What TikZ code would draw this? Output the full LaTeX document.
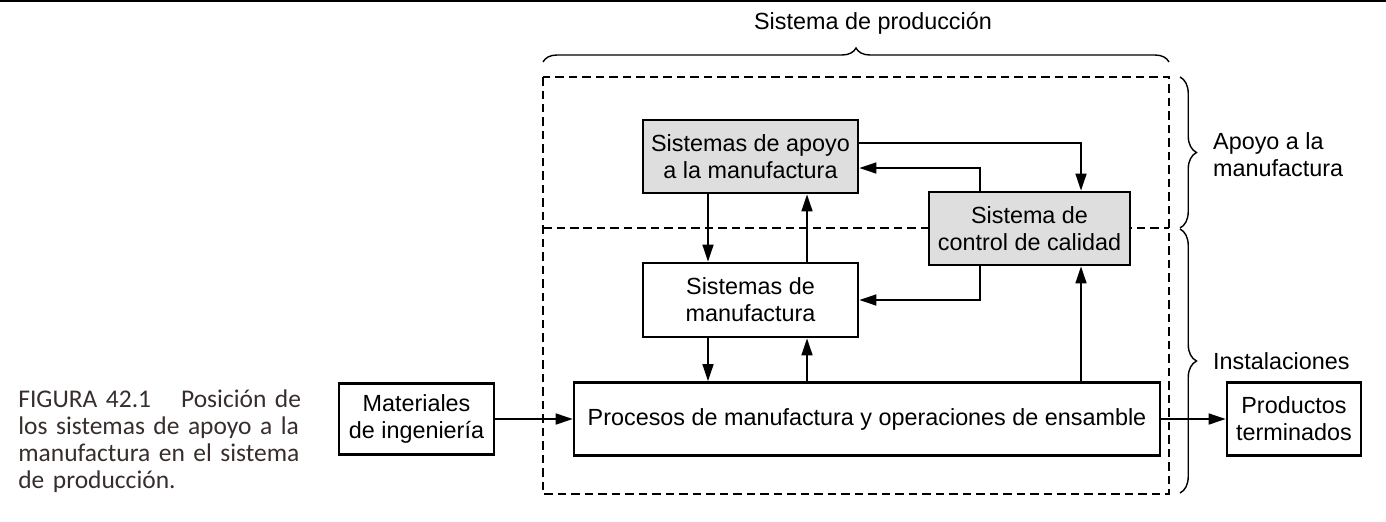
\documentclass[tikz,border=0pt]{standalone}
\usepackage{fontspec}
\setmainfont{Liberation Sans}
\newfontfamily\captionfont{Carlito}
\usetikzlibrary{arrows.meta,calc,decorations.pathreplacing}
\definecolor{boxgray}{RGB}{222,222,222}
\definecolor{captiongray}{RGB}{55,45,45}
\begin{document}
\begin{tikzpicture}[x=0.02cm,y=-0.02cm,
        every node/.style={font=\fontsize{13.3}{15.4}\selectfont, align=center},
        blk/.style={draw, line width=1.6pt, inner sep=0pt, minimum height=1.46cm},
        shaded/.style={blk, fill=boxgray},
        arr/.style={-{Triangle[length=0.34cm,width=0.22cm]}, line width=0.95pt},
        region/.style={dash pattern=on 0.17cm off 0.1cm, line width=0.7pt},
        bracket/.style={decorate, decoration={brace, amplitude=#1}, line width=0.8pt},
        captxt/.style={anchor=north west, align=left, inner sep=0pt, text width=6.2cm,
            text=captiongray, font=\captionfont\fontsize{14.5}{15.4}\selectfont}]
        \useasboundingbox (0,0) rectangle (1386,521);
        \draw[line width=1.2pt] (0,1) -- (1386,1);
        % production system frame
        \draw[region] (543,77) rectangle (1169,494);
        \draw[region] (543,228) -- (1169,228);
        \draw[bracket=0.28cm] (543,62) -- (1169,62);
        \draw[bracket=0.33cm] (1180,77) -- (1180,228);
        \draw[bracket=0.33cm] (1180,229) -- (1180,493);
        \node (Prod) at (873,23) {Sistema de producción};
        \node[anchor=west, align=left] (ApoyoL) at (1207,155) {Apoyo a la\\manufactura};
        \node[anchor=west] (InstL) at (1207,361) {Instalaciones};
        % blocks
        \node[shaded, minimum width=4.3cm] (Apoyo) at (750.5,156.5) {Sistemas de apoyo\\a la manufactura};
        \node[shaded, minimum width=4.02cm] (Calidad) at (1029.5,228.5) {Sistema de\\control de calidad};
        \node[blk, minimum width=4.3cm, minimum height=1.48cm] (Manuf) at (750.5,300) {Sistemas de\\manufactura};
        \node[blk, minimum width=11.72cm] (Procesos) at (867,419) {Procesos de manufactura y operaciones de ensamble};
        \node[blk, minimum width=3.1cm, minimum height=1.42cm] (Mat) at (416.5,419) {Materiales\\de ingeniería};
        \node[blk, minimum width=2.68cm] (Prodt) at (1294,419) {Productos\\terminados};
        \node[captxt] (Cap) at (18,389)
            {FIGURA 42.1\hspace{0.6cm}Posición de\\los sistemas de apoyo a la\\manufactura en el sistema\\de producción.};
        % connectors
        \draw[arr] ($(Apoyo.east)+(0,-13.5)$) -| ($(Calidad.north)+(51.5,0)$);
        \draw[arr] ($(Calidad.north)+(-49.5,0)$) |- ($(Apoyo.east)+(0,11.5)$);
        \draw[arr] ($(Calidad.south)+(-49.5,0)$) |- (Manuf.east);
        \draw[arr] ($(Procesos.north)+(214,0)$) -- ($(Calidad.south)+(51.5,0)$);
        \draw[arr] ($(Apoyo.south)+(-42.5,0)$) -- ($(Manuf.north)+(-42.5,0)$);
        \draw[arr] ($(Manuf.north)+(56.5,0)$) -- ($(Apoyo.south)+(56.5,0)$);
        \draw[arr] ($(Manuf.south)+(-42.5,0)$) -- ($(Procesos.north)+(-159,0)$);
        \draw[arr] ($(Procesos.north)+(-60,0)$) -- ($(Manuf.south)+(56.5,0)$);
        \draw[arr] (Mat.east) -- (Procesos.west);
        \draw[arr] (Procesos.east) -- (Prodt.west);
\end{tikzpicture}
\end{document}
